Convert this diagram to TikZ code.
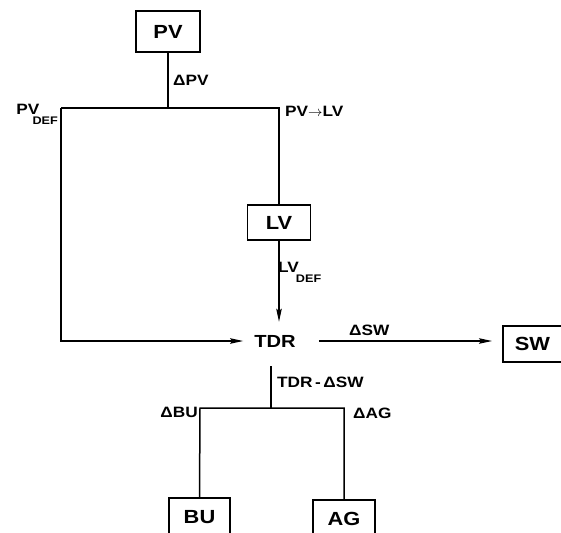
\documentclass[tikz,border=0pt]{standalone}
\usepackage{fontspec}
\setmainfont{Liberation Sans}[FakeStretch=1.15]
\usetikzlibrary{arrows.meta}
\newcommand{\defsub}[1][-5pt]{\kern#1\raisebox{-10pt}{\fontsize{11}{10}\selectfont DEF}}
\tikzset{
    box/.style={draw, line width=1.5pt, font=\fontsize{19}{19}\selectfont\bfseries, inner sep=0pt},
    lbl/.style={font=\fontsize{15}{15}\selectfont\bfseries, inner sep=0pt},
    flow/.style={line width=1.5pt},
    flowarrow/.style={line width=1.2pt, -{Stealth[length=13pt, width=5.5pt, inset=2pt]}}
}
\begin{document}
\begin{tikzpicture}[x=1pt, y=-1pt]
    \useasboundingbox (0,0) rectangle (561,532);
    \node[box, minimum width=64pt, minimum height=41pt] (PV) at (168, 31.5) {PV};
    \node[box, minimum width=63pt, minimum height=35pt] (LV) at (279, 222.5) {LV};
    \node[box, minimum height=36pt, text width=70pt, inner xsep=12pt, align=left, anchor=west] (SW) at (502, 344) {SW};
    \node[box, minimum width=61pt, minimum height=38pt] (BU) at (199.5, 517) {BU};
    \node[box, minimum width=62pt, minimum height=38pt] (AG) at (344, 519) {AG};
    \node[font=\fontsize{17.5}{17}\selectfont\bfseries, inner sep=0pt] (TDR) at (275, 341) {TDR};
    % split points
    \coordinate (pvsplit) at (168, 108);
    \coordinate (defcorner) at (61, 108);
    \coordinate (lvcorner) at (279, 108);
    \coordinate (tdrsplit) at (271, 408);
    \coordinate (bucorner) at (200, 408);
    \coordinate (agcorner) at (344, 408);
    % upper part
    \draw[flow] (PV.south) -- (pvsplit);
    \draw[flow] (defcorner) -- (lvcorner) -- (LV.north);
    \draw[flowarrow, shorten >=11pt] (defcorner) |- (TDR.west);
    \draw[flowarrow, shorten >=13pt] (LV.south) -- (LV.south |- TDR.north);
    % to the right
    \draw[flowarrow, shorten <=23pt, shorten >=10pt] (TDR.east) -- (TDR.east -| SW.west);
    % lower part
    \draw[flow] ([yshift=-19pt]TDR.south -| tdrsplit) -- (tdrsplit);
    \draw[flow] (BU.north) -- (bucorner) -- (agcorner) -- (AG.north);
    % labels
    \node[lbl, anchor=base west] (dpv) at (173, 85) {ΔPV};
    \node[lbl, anchor=base east] (pvdef) at (58, 114) {PV\defsub[-7pt]};
    \node[lbl, anchor=base west] (pvlv) at (285, 116) {PV$\to$LV};
    \node[lbl, anchor=base west] (lvdef) at (278, 272) {LV\defsub[-3pt]};
    \node[lbl, anchor=base west] (dsw) at (349, 335) {ΔSW};
    \node[lbl, anchor=base west] (tdrdsw) at (277, 387) {TDR\,-\,ΔSW};
    \node[lbl, anchor=base east] (dbu) at (198, 417) {ΔBU};
    \node[lbl, anchor=base west] (dag) at (353, 418) {ΔAG};
\end{tikzpicture}
\end{document}
